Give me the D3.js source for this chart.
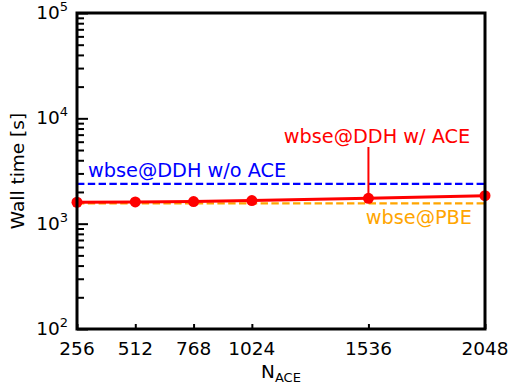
<!DOCTYPE html>
<html>
<head>
<meta charset="utf-8">
<script src="https://cdn.jsdelivr.net/npm/d3@7"></script>
<style>
  body { margin: 0; background: #fff; }
  svg text { font-family: "DejaVu Sans", sans-serif; }
</style>
</head>
<body>
<script>
// data
const nAce = [256, 512, 768, 1024, 1536, 2048]
const wallAce = [1597, 1607, 1620, 1655, 1742, 1845]
const wallNoAce = 2390
const wallPbe = 1560
const xTicks = [256, 512, 768, 1024, 1536, 2048]
const yTicks = [1e2, 1e3, 1e4, 1e5]

const w = 511
const h = 386
const padL = 77, padR = 485, padT = 13, padB = 329

const svg = d3.select("body")
  .append("svg")
  .attr("width", w)
  .attr("height", h)

const x = d3.scaleLinear().domain([256, 2048]).range([padL, padR])
const y = d3.scaleLog().domain([1e2, 1e5]).range([padB, padT])

// minor ticks on y
const minor = []
for (let d = 100; d < 1e5; d *= 10) {
  for (let k = 2; k < 10; k++) minor.push(d * k)
}

// y axis: ticks pointing in
svg.append("g")
  .attr("transform", `translate(${padL},0)`)
  .call(d3.axisRight(y).tickValues(yTicks).tickSize(11).tickFormat(""))
  .call(g => g.select(".domain").remove())
  .call(g => g.selectAll("line").attr("stroke", "#000").attr("stroke-width", 2))

svg.append("g")
  .attr("transform", `translate(${padL},0)`)
  .call(d3.axisRight(y).tickValues(minor).tickSize(7).tickFormat(""))
  .call(g => g.select(".domain").remove())
  .call(g => g.selectAll("line").attr("stroke", "#000").attr("stroke-width", 2))

// x axis ticks pointing in
svg.append("g")
  .attr("transform", `translate(0,${padB})`)
  .call(d3.axisTop(x).tickValues(xTicks).tickSize(5).tickFormat(""))
  .call(g => g.select(".domain").remove())
  .call(g => g.selectAll("line").attr("stroke", "#000").attr("stroke-width", 2))

// x tick labels
svg.append("g")
  .selectAll("text")
  .data(xTicks)
  .join("text")
  .attr("x", d => x(d))
  .attr("y", 355)
  .attr("text-anchor", "middle")
  .attr("font-size", 18.5)
  .text(d => d)

// y tick labels, 10^n
const yl = svg.append("g")
  .selectAll("text")
  .data(yTicks)
  .join("text")
  .attr("x", 68)
  .attr("y", d => y(d) + 6)
  .attr("text-anchor", "end")
  .attr("font-size", 18.5)
yl.append("tspan").text("10")
yl.append("tspan")
  .attr("font-size", 13)
  .attr("dy", -8)
  .text(d => Math.round(Math.log10(d)))

// axis titles
const xt = svg.append("text")
  .attr("x", 281)
  .attr("y", 378)
  .attr("text-anchor", "middle")
  .attr("font-size", 18.5)
xt.append("tspan").text("N")
xt.append("tspan").attr("font-size", 13).attr("dy", 4).text("ACE")

svg.append("text")
  .attr("transform", "translate(24,171) rotate(-90)")
  .attr("text-anchor", "middle")
  .attr("font-size", 18.5)
  .text("Wall time [s]")

// reference lines
svg.append("line")
  .attr("x1", x(256)).attr("x2", x(2048))
  .attr("y1", y(wallNoAce)).attr("y2", y(wallNoAce))
  .attr("stroke", "#0000ff")
  .attr("stroke-width", 2.2)
  .attr("stroke-dasharray", "7.4 3.4")

svg.append("line")
  .attr("x1", x(256)).attr("x2", x(2048))
  .attr("y1", y(wallPbe)).attr("y2", y(wallPbe))
  .attr("stroke", "orange")
  .attr("stroke-width", 2.2)
  .attr("stroke-dasharray", "7.4 3.4")

// ACE series
const line = d3.line().x((d, i) => x(nAce[i])).y(d => y(d))
svg.append("path")
  .datum(wallAce)
  .attr("d", line)
  .attr("fill", "none")
  .attr("stroke", "#ff0000")
  .attr("stroke-width", 3)

svg.append("g")
  .selectAll("circle")
  .data(wallAce)
  .join("circle")
  .attr("cx", (d, i) => x(nAce[i]))
  .attr("cy", d => y(d))
  .attr("r", 5.5)
  .attr("fill", "#ff0000")

// annotation
svg.append("line")
  .attr("x1", x(1536)).attr("x2", x(1536))
  .attr("y1", 147)
  .attr("y2", y(wallAce[4]))
  .attr("stroke", "#ff0000")
  .attr("stroke-width", 2)

svg.append("text")
  .attr("x", 377)
  .attr("y", 143)
  .attr("text-anchor", "middle")
  .attr("font-size", 19.3)
  .attr("fill", "#ff0000")
  .text("wbse@DDH w/ ACE")

svg.append("text")
  .attr("x", 88)
  .attr("y", 177)
  .attr("font-size", 19.3)
  .attr("fill", "#0000ff")
  .text("wbse@DDH w/o ACE")

svg.append("text")
  .attr("x", 472)
  .attr("y", 224)
  .attr("text-anchor", "end")
  .attr("font-size", 19.3)
  .attr("fill", "orange")
  .text("wbse@PBE")

// frame
svg.append("rect")
  .attr("x", padL)
  .attr("y", padT)
  .attr("width", padR - padL)
  .attr("height", padB - padT)
  .attr("fill", "none")
  .attr("stroke", "#000")
  .attr("stroke-width", 3)
</script>
</body>
</html>
